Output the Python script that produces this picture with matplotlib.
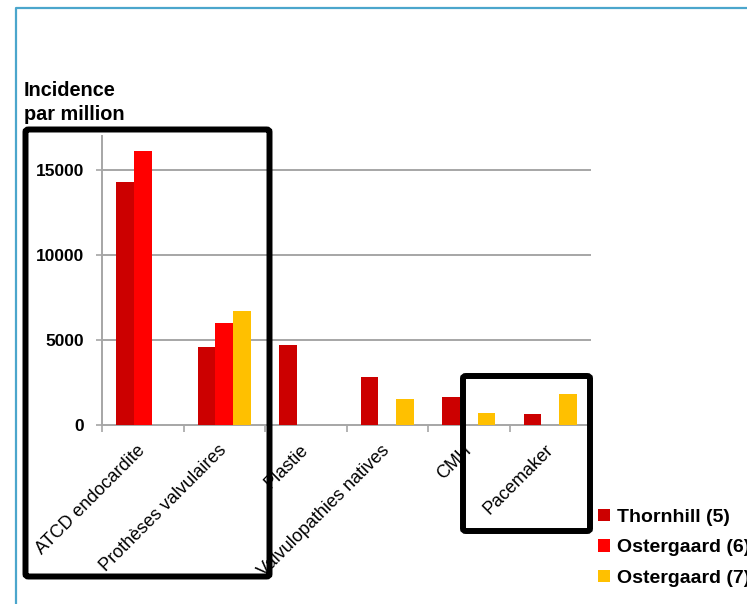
import numpy as np
import matplotlib
matplotlib.use("Agg")
import matplotlib.pyplot as plt
import matplotlib.transforms as mtransforms
from matplotlib.patches import FancyBboxPatch
from matplotlib.lines import Line2D

plt.rcParams['font.family'] = ['Liberation Sans', 'DejaVu Sans']

categories = ["ATCD endocardite", "Prothèses valvulaires", "Plastie",
              "Valvulopathies natives", "CMH", "Pacemaker"]
series_names = ["Thornhill (5)", "Ostergaard (6)", "Ostergaard (7)"]
thornhill = [14300, 4600, 4700, 2800, 1650, 650]
ostergaard6 = [16100, 6000, np.nan, np.nan, np.nan, np.nan]
ostergaard7 = [np.nan, 6700, np.nan, 1550, 700, 1850]
series_colors = ["#cc0000", "#ff0000", "#ffc000"]
y_ticks = [0, 5000, 10000, 15000]

W, H = 747, 604
fig = plt.figure(figsize=(W / 100, H / 100), dpi=100)
fig.patch.set_facecolor("white")

# axes placed in pixel terms
x0, x1, y0, y1 = 102, 591, 425, 136
ax = fig.add_axes([x0 / W, 1 - y0 / H, (x1 - x0) / W, (y0 - y1) / H])

x = np.arange(len(categories))
bw = 0.215
grid_c = "#a6a6a6"
for k, (vals, col, name) in enumerate(zip([thornhill, ostergaard6, ostergaard7],
                                           series_colors, series_names)):
    ax.bar(x + (k - 1) * bw, vals, width=bw, color=col, label=name, zorder=3)

ax.set_xlim(-0.5, len(categories) - 0.5)
ax.set_ylim(0, 17000)
ax.set_yticks(y_ticks)
ax.set_yticklabels([str(v) for v in y_ticks], fontsize=12.5, fontweight="bold")
for v in y_ticks[1:]:
    ax.axhline(v, color=grid_c, lw=1.4, zorder=1)

# category boundaries carry the tick marks, centres carry the labels
ax.set_xticks(np.arange(len(categories) + 1) - 0.5)
ax.set_xticklabels([])
ax.set_xticks(x, minor=True)
ax.set_xticklabels(categories, minor=True, rotation=45, ha="right",
                   rotation_mode="anchor", fontsize=13)
ax.tick_params(axis="x", which="minor", length=0, pad=12)
ax.tick_params(axis="x", which="major", length=5, width=1.2, color=grid_c)
ax.tick_params(axis="y", length=4, width=1.2, color=grid_c, pad=9)
shift = mtransforms.ScaledTranslation(-6 / 100, 0, fig.dpi_scale_trans)
for lab in ax.get_xticklabels(minor=True):
    lab.set_transform(lab.get_transform() + shift)

for s in ["top", "right"]:
    ax.spines[s].set_visible(False)
for s in ["left", "bottom"]:
    ax.spines[s].set_color(grid_c)
    ax.spines[s].set_linewidth(1.4)

fig.text(24 / W, 1 - 81 / H, "Incidence\npar million", fontsize=14.3,
         fontweight="bold", va="top", ha="left", linespacing=1.3)

leg = fig.legend(loc="upper left", bbox_to_anchor=(598 / W, 1 - 509 / H),
                 frameon=False, prop={"weight": "bold", "size": 14},
                 handlelength=0.6, handleheight=0.6, handletextpad=0.4,
                 labelspacing=0.68, borderaxespad=0, borderpad=0)

# outer light-blue frame
fig.add_artist(Line2D([15.5 / W, 15.5 / W, 1.0], [0.0, 1 - 8 / H, 1 - 8 / H],
                      transform=fig.transFigure, color="#4ba6cc", lw=1.6))

# highlight boxes
def box(l, t, r, b):
    p = FancyBboxPatch((l / W, 1 - b / H), (r - l) / W, (b - t) / H,
                       boxstyle="round,pad=0,rounding_size=0.004",
                       transform=fig.transFigure, fill=False,
                       edgecolor="black", lw=4.3, zorder=10)
    fig.add_artist(p)

box(25.5, 129.5, 269.5, 576.5)
box(463, 376, 590, 531)

fig.savefig("out.png", dpi=100)
